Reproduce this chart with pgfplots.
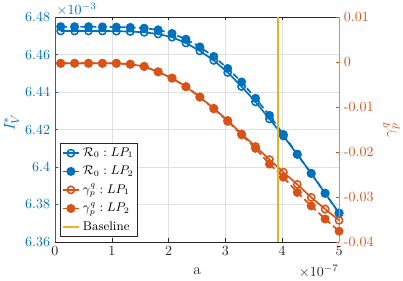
\documentclass[border=0pt]{standalone}
\usepackage{pgfplots}
\usepackage{pgfplotstable}
\pgfplotsset{compat=1.18}
\definecolor{mblue}{rgb}{0,0.447,0.741}
\definecolor{morange}{rgb}{0.851,0.325,0.098}
\definecolor{myellow}{rgb}{0.929,0.694,0.125}
\definecolor{axgray}{rgb}{0.15,0.15,0.15}

\pgfplotstableread{
x      r1      r2      g1       g2
0.100  6.4725  6.4748  -0.0003  -0.0003
0.345  6.4725  6.4748  -0.0003  -0.0003
0.590  6.4725  6.4748  -0.0003  -0.0003
0.835  6.4725  6.4747  -0.0003  -0.0003
1.080  6.4724  6.4746  -0.0003  -0.0003
1.325  6.4722  6.4744  -0.0005  -0.0005
1.570  6.4718  6.4740  -0.0010  -0.0010
1.815  6.4709  6.4731  -0.0022  -0.0022
2.060  6.4692  6.4712  -0.0036  -0.0036
2.305  6.4661  6.4681  -0.0055  -0.0055
2.550  6.4619  6.4640  -0.0078  -0.0078
2.795  6.4568  6.4589  -0.0103  -0.0104
3.040  6.4504  6.4525  -0.0130  -0.0132
3.285  6.4429  6.4453  -0.0160  -0.0162
3.530  6.4347  6.4366  -0.0188  -0.0192
3.775  6.4256  6.4275  -0.0217  -0.0227
4.020  6.4165  6.4173  -0.0245  -0.0256
4.265  6.4067  6.4068  -0.0272  -0.0290
4.510  6.3965  6.3966  -0.0301  -0.0320
4.755  6.3859  6.3860  -0.0327  -0.0349
5.000  6.3755  6.3753  -0.0352  -0.0376
}\datatable

\pgfplotsset{
  lp1/.style={line width=1.2pt, mark=o, mark size=2.6pt, mark options={solid, line width=1.1pt}},
  lp2/.style={line width=1.2pt, dash pattern=on 4.5pt off 2.5pt, mark=*, mark size=2.6pt, mark options={solid}},
}

\begin{document}
\begin{tikzpicture}
\begin{axis}[
  scale only axis, width=203pt, height=160.8pt,
  xmin=0, xmax=5, ymin=6.36, ymax=6.48,
  axis x line*=box, axis y line*=left,
  yticklabel pos=left,
  x axis line style={-, draw=axgray, line width=0.4pt},
  y axis line style={-, draw=mblue, line width=0.4pt},
  xtick={0,1,2,3,4,5},
  ytick={6.36,6.38,6.40,6.42,6.44,6.46,6.48},
  yticklabels={6.36,6.38,6.4,6.42,6.44,6.46,6.48},
  tick align=inside, major tick length=2.5pt,
  xtick style={draw=axgray, line width=0.4pt},
  ytick style={draw=mblue, line width=0.4pt},
  yticklabel style={text=mblue},
  xticklabel style={text=axgray},
  grid=major, major grid style={draw=black!12, line width=0.4pt},
  xlabel={a}, ylabel={$I_V^*$},
  ylabel shift=-2.5pt,
  ylabel style={text=mblue, font=\fontsize{11}{13}\selectfont, xshift=5pt},
  xlabel style={text=axgray, font=\fontsize{11}{13}\selectfont, yshift=-1.5pt},
]
\coordinate (SW) at (rel axis cs:0,0);
\coordinate (NE) at (rel axis cs:1,1);
\coordinate (NW) at (rel axis cs:0,1);
\coordinate (SE) at (rel axis cs:1,0);
\addplot[mblue, lp1] table[x=x, y=r1] {\datatable};
\addplot[mblue, lp2] table[x=x, y=r2] {\datatable};
\end{axis}
\begin{axis}[
  scale only axis, width=203pt, height=160.8pt,
  xmin=0, xmax=5, ymin=-0.04, ymax=0.01,
  axis x line=none, axis y line*=right,
  yticklabel pos=right, ylabel near ticks,
  scaled y ticks=false,
  y axis line style={-, draw=morange!70, line width=0.4pt},
  ytick={-0.04,-0.03,-0.02,-0.01,0,0.01},
  yticklabels={-0.04,-0.03,-0.02,-0.01,0,0.01},
  tick align=inside, major tick length=2.5pt,
  ytick style={draw=morange, line width=0.4pt},
  yticklabel style={text=morange},
  ylabel={$\gamma_p^q$},
  ylabel style={text=morange, font=\fontsize{11}{13}\selectfont},
  legend style={at={(0.0177,0.0224)}, anchor=south west, draw=axgray, fill=white,
    font=\small, inner sep=1pt, row sep=1.4pt, cells={anchor=west}},
  legend image code/.code={\draw[mark repeat=2,mark phase=2] plot coordinates {(0cm,0cm) (0.21cm,0cm) (0.42cm,0cm)};},
]
\addlegendimage{mblue, lp1}
\addlegendentry{$\mathcal{R}_0 : LP_1$}
\addlegendimage{mblue, lp2}
\addlegendentry{$\mathcal{R}_0 : LP_2$}
\addplot[morange, lp1] table[x=x, y=g1] {\datatable};
\addlegendentry{$\gamma_p^q : LP_1$}
\addplot[morange, lp2] table[x=x, y=g2] {\datatable};
\addlegendentry{$\gamma_p^q : LP_2$}
\addplot[myellow, line width=1.2pt] coordinates {(3.93,-0.04) (3.93,0.01)};
\addlegendentry{Baseline}
\end{axis}
\node[anchor=south west, inner sep=0pt, text=mblue, yshift=0.8pt, xshift=1pt] at (NW) {$\times10^{-3}$};
\node[anchor=north east, inner sep=0pt, text=axgray, yshift=-16.4pt] at (SE) {$\times10^{-7}$};
\pgfresetboundingbox
\path[use as bounding box] ([shift={(-39.3pt,-27.2pt)}]SW) rectangle ([shift={(45.7pt,12.1pt)}]NE);
\end{tikzpicture}
\end{document}
